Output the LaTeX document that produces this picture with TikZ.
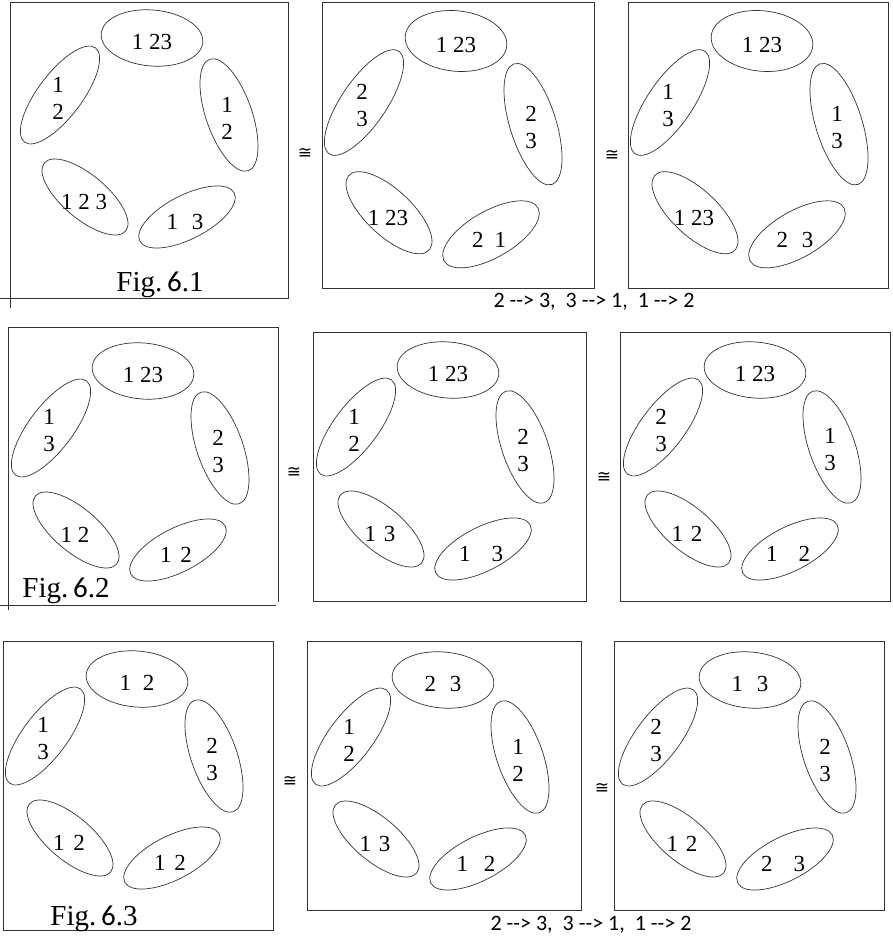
\documentclass[tikz,border=0pt]{standalone}
\usepackage{fontspec}
\setmainfont{Liberation Serif}
\newfontfamily\calfont{Carlito}
\newfontfamily\symfont{DejaVu Sans}

% five loops of one panel: name, origin (top loop), yscale, labels t/l/r/bl/br
\newcommand{\orbit}[8]{%
  \begin{scope}[shift={#2}, yscale=#3]
    \draw[blob, rotate around={-5:(0,0)}]     (0,0)     ellipse[x radius=51pt, y radius=28pt];
    \draw[blob, rotate around={53:(-92,57)}]  (-92,57)  ellipse[x radius=59pt, y radius=22pt];
    \draw[blob, rotate around={109:(77,77)}]  (77,77)   ellipse[x radius=59pt, y radius=23pt];
    \draw[blob, rotate around={-40:(-67,159)}] (-67,159) ellipse[x radius=53pt, y radius=22pt];
    \draw[blob, rotate around={27:(35,179)}]  (35,179)  ellipse[x radius=53pt, y radius=22pt];
    \node[lab] (#1-t)  at (0,4)     {#4};
    \node[lab] (#1-l)  at (-94,60)  {#5};
    \node[lab] (#1-r)  at (75,80)   {#6};
    \node[lab] (#1-bl) at (-68,164) {#7};
    \node[lab] (#1-br) at (33,184)  {#8};
  \end{scope}}

\begin{document}
\begin{tikzpicture}[
  x=1pt, y=-1pt,
  frame/.style={draw=black!80, line width=0.8pt},
  blob/.style={draw=black!80, line width=0.7pt},
  lab/.style={inner sep=0pt, align=center,
              font=\fontsize{23}{27}\selectfont},
  iso/.style={inner sep=0pt, font=\symfont\fontsize{17}{17}\selectfont},
  figcap/.style={inner sep=0pt, anchor=base,
                 font=\fontsize{29}{32}\selectfont},
  mapnote/.style={inner sep=0pt, font=\calfont\fontsize{22}{24}\selectfont},
]
  \useasboundingbox (0,0) rectangle (893,942);

  % row 1
  \draw[frame] (288,2) -- (10,2) -- (10,308);
  \draw[frame] (0,298) -- (288,298) -- (288,2);
  \draw[frame] (322,2) rectangle (594,288);
  \draw[frame] (628,2) rectangle (888,288);
  \orbit{a}{(152,38)}{1}{1 23}{1\\2}{1\\2}{1 2 3}{1\hspace{14pt}3}
  \orbit{b}{(456,41)}{1.08}{1 23}{2\\3}{2\\3}{1 23}{2\hspace{11pt}1}
  \orbit{c}{(762,41)}{1.08}{1 23}{1\\3}{1\\3}{1 23}{2\hspace{14pt}3}
  \node[iso] (cong1) at (305,153) {≅};
  \node[iso] (cong2) at (612,155) {≅};
  \node[figcap] (fig1) at (160,291) {Fig.\,{\calfont 6}.1};
  \node[mapnote] (map1) at (594,302) {2 -{}-> 3,~ 3 -{}-> 1,~ 1 -{}-> 2};

  % row 2
  \draw[frame] (8,610) -- (8,327) -- (278,327) -- (278,602);
  \draw[frame] (0,605) -- (276,605);
  \draw[frame] (313,332) rectangle (586,601);
  \draw[frame] (620,332) rectangle (890,601);
  \orbit{d}{(143,371)}{1}{1 23}{1\\3}{2\\3}{1 2}{1\hspace{9pt}2}
  \orbit{e}{(448,370)}{1}{1 23}{1\\2}{2\\3}{1\hspace{8pt}3}{1\hspace{21pt}3}
  \orbit{f}{(755,370)}{1}{1 23}{2\\3}{1\\3}{1\hspace{8pt}2}{1\hspace{21pt}2}
  \node[iso] (cong3) at (294,472) {≅};
  \node[iso] (cong4) at (604,477) {≅};
  \node[figcap] (fig2) at (66,597) {Fig.\,{\calfont 6}.2};

  % row 3
  \draw[frame] (3,641) rectangle (273,930);
  \draw[frame] (307,641) rectangle (581,910);
  \draw[frame] (614,641) rectangle (884,910);
  \orbit{g}{(137,679)}{1}{1\hspace{12pt}2}{1\\3}{2\\3}{1\hspace{9pt}2}{1\hspace{9pt}2}
  \orbit{h}{(443,680)}{1}{2\hspace{14pt}3}{1\\2}{1\\2}{1\hspace{8pt}3}{1\hspace{16pt}2}
  \orbit{i}{(750,680)}{1}{1\hspace{14pt}3}{2\\3}{2\\3}{1\hspace{8pt}2}{2\hspace{21pt}3}
  \node[iso] (cong5) at (290,781) {≅};
  \node[iso] (cong6) at (602,788) {≅};
  \node[figcap] (fig3) at (94,925) {Fig.\,{\calfont 6}.3};
  \node[mapnote] (map2) at (591,925) {2 -{}-> 3,~ 3 -{}-> 1,~ 1 -{}-> 2};
\end{tikzpicture}
\end{document}
